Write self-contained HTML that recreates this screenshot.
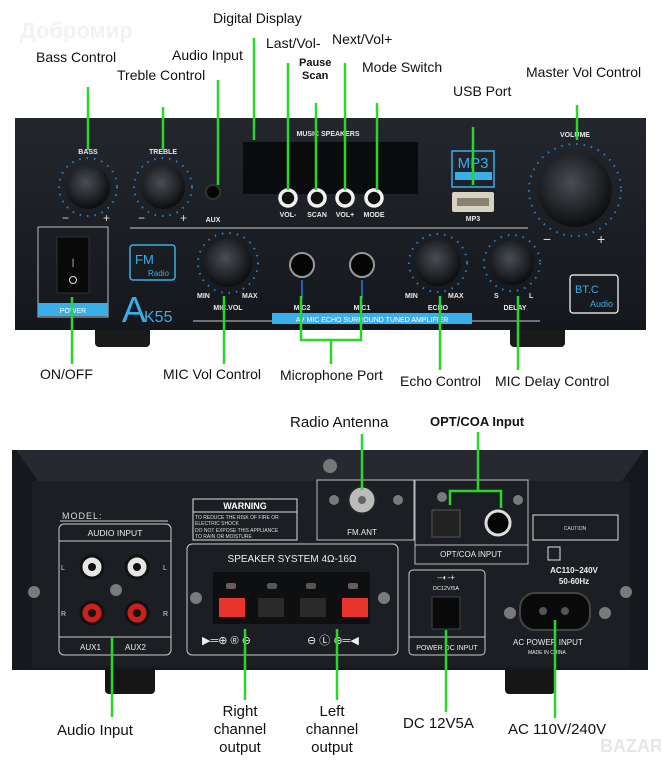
<!DOCTYPE html>
<html><head><meta charset="utf-8"><style>
html,body{margin:0;padding:0;background:#fff;}
svg{display:block;}
text{font-family:"Liberation Sans",sans-serif;}
.l{font-size:14px;fill:#111;}
.g{stroke:#2bd62b;stroke-width:2.5;fill:none;}
.w{fill:#e8e8e8;font-size:7px;font-weight:bold;}
.b{fill:#3aaee8;}
</style></head><body>
<svg width="661" height="768" viewBox="0 0 661 768" xmlns="http://www.w3.org/2000/svg">
<defs>
<radialGradient id="kn" cx="45%" cy="40%" r="60%"><stop offset="0" stop-color="#4a4d52"/><stop offset="0.7" stop-color="#1e2024"/><stop offset="1" stop-color="#0c0d0f"/></radialGradient>
<linearGradient id="pn" x1="0" y1="0" x2="0" y2="1"><stop offset="0" stop-color="#23272d"/><stop offset="1" stop-color="#14171b"/></linearGradient>
</defs>
<text x="20" y="38" font-size="22" font-weight="bold" fill="#f1f2f4">Добромир</text>

<!-- FRONT PANEL -->
<rect x="95" y="325" width="55" height="22" rx="4" fill="#1a1a1a"/>
<rect x="510" y="325" width="55" height="22" rx="4" fill="#1a1a1a"/>
<rect x="15" y="118" width="631" height="212" fill="url(#pn)"/>
<text x="328" y="136" class="w" text-anchor="middle">MUSIC SPEAKERS</text>
<rect x="243" y="142" width="175" height="52" fill="#0a0b0d"/>
<g fill="url(#kn)"><circle cx="88" cy="187" r="22"/><circle cx="163" cy="187" r="22"/><circle cx="228" cy="263" r="24"/><circle cx="438" cy="263" r="23"/><circle cx="512" cy="263" r="22"/><circle cx="575" cy="190" r="37"/></g>
<g fill="none" stroke="#2a7fd0" stroke-width="2" stroke-dasharray="1.5 6">
<circle cx="88" cy="187" r="29"/><circle cx="163" cy="187" r="29"/><circle cx="228" cy="263" r="30"/><circle cx="438" cy="263" r="29"/><circle cx="512" cy="263" r="28"/><circle cx="575" cy="190" r="46"/></g>
<text x="88" y="154" class="w" text-anchor="middle">BASS</text>
<text x="163" y="154" class="w" text-anchor="middle">TREBLE</text>
<text x="575" y="137" class="w" text-anchor="middle">VOLUME</text>
<text x="62" y="222" fill="#ddd" font-size="12">−</text><text x="103" y="222" fill="#ddd" font-size="12">+</text>
<text x="138" y="222" fill="#ddd" font-size="12">−</text><text x="180" y="222" fill="#ddd" font-size="12">+</text>
<text x="543" y="244" fill="#ddd" font-size="14">−</text><text x="597" y="244" fill="#ddd" font-size="14">+</text>
<circle cx="213" cy="192" r="7" fill="#050505" stroke="#333" stroke-width="2"/>
<text x="213" y="222" class="w" text-anchor="middle">AUX</text>
<g fill="#111" stroke="#f4f4f4" stroke-width="3.5"><circle cx="288" cy="198" r="8"/><circle cx="317" cy="198" r="8"/><circle cx="345" cy="198" r="8"/><circle cx="374" cy="198" r="8"/></g>
<g class="w" text-anchor="middle" font-size="6"><text x="288" y="217">VOL-</text><text x="317" y="217">SCAN</text><text x="345" y="217">VOL+</text><text x="374" y="217">MODE</text></g>
<rect x="452" y="151" width="42" height="36" fill="none" stroke="#3aaee8" stroke-width="1.5"/>
<text x="473" y="168" class="b" font-size="15" text-anchor="middle">MP3</text>
<rect x="455" y="172" width="37" height="8" class="b"/>
<rect x="452" y="192" width="42" height="20" rx="2" fill="#d8d2c2"/>
<rect x="457" y="198" width="32" height="8" fill="#8a8270"/>
<text x="473" y="221" class="w" text-anchor="middle">MP3</text>
<line x1="130" y1="228" x2="528" y2="228" stroke="#ccc" stroke-width="1"/>
<line x1="193" y1="321" x2="540" y2="321" stroke="#ccc" stroke-width="1"/>
<rect x="38" y="227" width="70" height="90" fill="none" stroke="#bbb" stroke-width="1"/>
<rect x="57" y="237" width="32" height="56" fill="#090909" stroke="#333"/>
<text x="73" y="265" fill="#ddd" font-size="9" text-anchor="middle">|</text>
<circle cx="73" cy="280" r="3.5" fill="none" stroke="#ddd"/>
<rect x="38" y="303" width="70" height="13" class="b"/>
<text x="73" y="313" font-size="7" fill="#fff" text-anchor="middle">POWER</text>
<rect x="130" y="245" width="45" height="35" rx="3" fill="none" stroke="#3aaee8" stroke-width="1.5"/>
<text x="135" y="264" class="b" font-size="13">FM</text><text x="148" y="276" class="b" font-size="8">Radio</text>
<text x="122" y="322" class="b" font-size="36">A</text><text x="144" y="322" class="b" font-size="16">K55</text>
<g fill="#050505" stroke="#999" stroke-width="2"><circle cx="302" cy="265" r="12"/><circle cx="362" cy="265" r="12"/></g>
<line x1="302" y1="280" x2="302" y2="298" stroke="#2a7fd0" stroke-width="1.5"/><line x1="362" y1="280" x2="362" y2="298" stroke="#2a7fd0" stroke-width="1.5"/>
<g class="w" text-anchor="middle"><text x="228" y="310">MIC.VOL</text><text x="302" y="310">MIC2</text><text x="362" y="310">MIC1</text><text x="438" y="310">ECHO</text><text x="515" y="310">DELAY</text></g>
<g class="w" font-size="6"><text x="197" y="298">MIN</text><text x="242" y="298">MAX</text><text x="405" y="298">MIN</text><text x="448" y="298">MAX</text><text x="494" y="298">S</text><text x="529" y="298">L</text></g>
<rect x="272" y="313" width="200" height="11" class="b"/>
<text x="372" y="322" font-size="7" fill="#fff" text-anchor="middle">AV MIC ECHO SURROUND TUNED AMPLIFIER</text>
<rect x="570" y="275" width="48" height="38" rx="3" fill="none" stroke="#fff" stroke-width="1.2"/>
<text x="575" y="293" class="b" font-size="11">BT.C</text><text x="590" y="307" class="b" font-size="9">Audio</text>

<!-- front labels -->
<g class="l">
<text x="36" y="62">Bass Control</text>
<text x="117" y="80">Treble Control</text>
<text x="172" y="60">Audio Input</text>
<text x="213" y="23">Digital Display</text>
<text x="266" y="48">Last/Vol-</text>
<text x="299" y="66" font-size="11" font-weight="bold">Pause</text>
<text x="302" y="79" font-size="11" font-weight="bold">Scan</text>
<text x="332" y="44">Next/Vol+</text>
<text x="362" y="72">Mode Switch</text>
<text x="453" y="96">USB Port</text>
<text x="526" y="77">Master Vol Control</text>
<text x="40" y="379">ON/OFF</text>
<text x="163" y="379">MIC Vol Control</text>
<text x="280" y="380">Microphone Port</text>
<text x="400" y="386">Echo Control</text>
<text x="495" y="386">MIC Delay Control</text>
</g>
<g class="g">
<line x1="88" y1="87" x2="88" y2="150"/><line x1="163" y1="107" x2="163" y2="150"/>
<line x1="218" y1="80" x2="218" y2="185"/><line x1="254" y1="38" x2="254" y2="140"/>
<line x1="288" y1="63" x2="288" y2="190"/><line x1="316" y1="103" x2="316" y2="190"/>
<line x1="345" y1="63" x2="345" y2="190"/><line x1="377" y1="103" x2="377" y2="190"/>
<line x1="473" y1="127" x2="473" y2="185"/><line x1="577" y1="105" x2="577" y2="140"/>
<line x1="72" y1="297" x2="72" y2="364"/><line x1="224" y1="296" x2="224" y2="364"/>
<polyline points="301,296 301,340 361,340 361,296"/><line x1="331" y1="340" x2="331" y2="364"/>
<line x1="440" y1="296" x2="440" y2="370"/><line x1="518" y1="296" x2="518" y2="370"/>
</g>

<!-- BACK PANEL -->
<rect x="105" y="660" width="50" height="34" rx="4" fill="#161616"/>
<rect x="505" y="660" width="50" height="34" rx="4" fill="#161616"/>
<polygon points="12,450 648,450 648,670 12,670" fill="#15181c"/>
<polygon points="16,450 644,450 622,481 38,481" fill="#262a30"/>
<rect x="32" y="481" width="598" height="186" fill="#1b1e22"/>
<circle cx="330" cy="466" r="7" fill="#777"/>
<g fill="#7a7a7a"><circle cx="34" cy="592" r="6"/><circle cx="626" cy="592" r="6"/><circle cx="116" cy="590" r="6"/><circle cx="196" cy="598" r="6"/><circle cx="384" cy="598" r="6"/><circle cx="334" cy="500" r="5"/><circle cx="398" cy="500" r="5"/><circle cx="442" cy="497" r="5"/><circle cx="518" cy="500" r="5"/><circle cx="510" cy="613" r="6"/><circle cx="605" cy="613" r="6"/></g>
<text x="62" y="519" fill="#ddd" font-size="9" letter-spacing="1">MODEL:</text>
<line x1="60" y1="521" x2="168" y2="521" stroke="#ccc"/>
<rect x="59" y="524" width="112" height="131" rx="5" fill="none" stroke="#ccc"/>
<line x1="59" y1="541" x2="171" y2="541" stroke="#ccc"/><line x1="59" y1="637" x2="171" y2="637" stroke="#ccc"/>
<text x="115" y="536" fill="#eee" font-size="8.5" text-anchor="middle">AUDIO INPUT</text>
<text x="80" y="650" fill="#eee" font-size="8">AUX1</text><text x="125" y="650" fill="#eee" font-size="8">AUX2</text>
<g fill="#ddd" font-size="7"><text x="61" y="570">L</text><text x="163" y="570">L</text><text x="61" y="616">R</text><text x="163" y="616">R</text></g>
<g stroke="#111" stroke-width="3"><circle cx="92" cy="567" r="11" fill="#e6e6e6"/><circle cx="137" cy="567" r="11" fill="#e6e6e6"/><circle cx="92" cy="613" r="11" fill="#cc2020"/><circle cx="137" cy="613" r="11" fill="#cc2020"/></g>
<g fill="#111"><circle cx="92" cy="567" r="4"/><circle cx="137" cy="567" r="4"/><circle cx="92" cy="613" r="4"/><circle cx="137" cy="613" r="4"/></g>
<rect x="193" y="499" width="104" height="41" fill="#1b1e22" stroke="#ddd"/>
<text x="245" y="509" fill="#fff" font-size="9" font-weight="bold" text-anchor="middle">WARNING</text>
<line x1="193" y1="512" x2="297" y2="512" stroke="#ddd"/>
<g fill="#ddd" font-size="5"><text x="195" y="519">TO REDUCE THE RISK OF FIRE OR</text><text x="195" y="525">ELECTRIC SHOCK</text><text x="195" y="532">DO NOT EXPOSE THIS APPLIANCE</text><text x="195" y="538">TO RAIN OR MOISTURE</text></g>
<rect x="187" y="544" width="211" height="111" rx="5" fill="none" stroke="#ccc"/>
<text x="292" y="562" fill="#eee" font-size="10" text-anchor="middle">SPEAKER SYSTEM 4Ω-16Ω</text>
<rect x="213" y="572" width="157" height="52" fill="#0e0f11"/>
<g fill="#6a5a60"><rect x="226" y="583" width="10" height="6" rx="2"/><rect x="348" y="583" width="10" height="6" rx="2"/></g>
<g fill="#555"><rect x="267" y="583" width="10" height="6" rx="2"/><rect x="306" y="583" width="10" height="6" rx="2"/></g>
<rect x="219" y="598" width="26" height="19" fill="#e8362d"/><rect x="258" y="598" width="26" height="19" fill="#2a2a2a"/><rect x="300" y="598" width="26" height="19" fill="#2a2a2a"/><rect x="342" y="598" width="26" height="19" fill="#e8362d"/>
<g fill="#eee" font-size="11"><text x="202" y="644">▶═⊕ ® ⊖</text><text x="307" y="644">⊖ Ⓛ ⊕═◀</text></g>
<rect x="317" y="480" width="97" height="60" fill="none" stroke="#bbb"/>
<circle cx="362" cy="500" r="14" fill="#bbb" stroke="#222" stroke-width="3"/><circle cx="362" cy="500" r="4" fill="#666"/>
<text x="362" y="535" fill="#eee" font-size="8" text-anchor="middle">FM.ANT</text>
<rect x="415" y="480" width="113" height="84" fill="none" stroke="#bbb"/>
<line x1="415" y1="545" x2="528" y2="545" stroke="#bbb"/>
<rect x="432" y="510" width="28" height="27" fill="#222" stroke="#555"/>
<circle cx="498" cy="523" r="12" fill="#050505" stroke="#ddd" stroke-width="3"/>
<text x="471" y="557" fill="#eee" font-size="8" text-anchor="middle">OPT/COA  INPUT</text>
<rect x="533" y="515" width="85" height="25" fill="none" stroke="#ddd"/>
<text x="575" y="530" fill="#ddd" font-size="5" text-anchor="middle">CAUTION</text>
<rect x="548" y="547" width="12" height="13" fill="none" stroke="#ddd"/>
<text x="574" y="573" fill="#eee" font-size="8" font-weight="bold" text-anchor="middle">AC110~240V</text>
<text x="574" y="584" fill="#eee" font-size="8" font-weight="bold" text-anchor="middle">50-60Hz</text>
<rect x="409" y="570" width="76" height="85" rx="4" fill="none" stroke="#ccc"/>
<text x="446" y="580" fill="#eee" font-size="8" text-anchor="middle">--◐-+</text>
<text x="446" y="590" fill="#eee" font-size="5.5" text-anchor="middle">DC12V/5A</text>
<rect x="432" y="597" width="28" height="32" fill="#0a0a0a" stroke="#444"/>
<line x1="409" y1="637" x2="485" y2="637" stroke="#ccc"/>
<text x="447" y="650" fill="#eee" font-size="7" text-anchor="middle">POWER DC INPUT</text>
<rect x="520" y="593" width="70" height="37" rx="15" fill="#0a0a0a" stroke="#444" stroke-width="2"/>
<circle cx="543" cy="611" r="4" fill="#555"/><circle cx="565" cy="611" r="4" fill="#555"/>
<text x="513" y="645" fill="#eee" font-size="8">AC POWER INPUT</text>
<text x="528" y="654" fill="#eee" font-size="5">MADE IN CHINA</text>

<g class="l">
<text x="290" y="427" font-size="15">Radio Antenna</text>
<text x="430" y="426" font-size="13" font-weight="bold">OPT/COA Input</text>
<text x="57" y="735" font-size="15">Audio Input</text>
<text x="240" y="716" font-size="15" text-anchor="middle">Right</text>
<text x="240" y="734" font-size="15" text-anchor="middle">channel</text>
<text x="240" y="752" font-size="15" text-anchor="middle">output</text>
<text x="332" y="716" font-size="15" text-anchor="middle">Left</text>
<text x="332" y="734" font-size="15" text-anchor="middle">channel</text>
<text x="332" y="752" font-size="15" text-anchor="middle">output</text>
<text x="403" y="728" font-size="15">DC 12V5A</text>
<text x="508" y="734" font-size="15">AC 110V/240V</text>
</g>
<text x="600" y="752" font-size="18" font-weight="bold" fill="#e6e6e6">BAZAR</text>
<g class="g">
<line x1="362" y1="434" x2="362" y2="490"/>
<line x1="478" y1="432" x2="478" y2="491"/><polyline points="450,505 450,491 501,491 501,508"/>
<line x1="112" y1="637" x2="112" y2="717"/>
<line x1="245" y1="629" x2="245" y2="700"/>
<line x1="337" y1="629" x2="337" y2="700"/>
<line x1="446" y1="630" x2="446" y2="712"/>
<line x1="555" y1="620" x2="555" y2="718"/>
</g>
</svg>
</body></html>
